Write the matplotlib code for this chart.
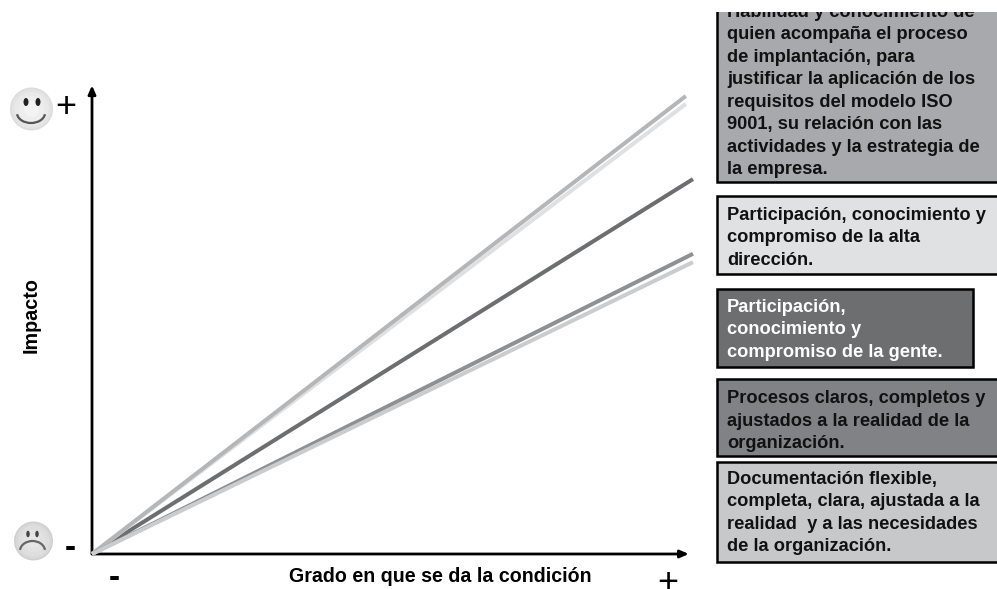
import matplotlib
matplotlib.use("Agg")
import matplotlib.pyplot as plt
from matplotlib.patches import Rectangle, Circle, Ellipse, Arc

plt.rcParams['font.family'] = ['Liberation Sans', 'DejaVu Sans']

# Data: end of each line, in % of the axes
line_x_end = [99.8, 99.8, 101, 101, 101]
line_y_end = [98.7, 97.0, 80.8, 64.7, 62.9]
line_colors = ['#b5b6b8', '#dfe0e2', '#6d6e70', '#8f9092', '#cbcccd']
line_order = [3, 2.5, 2, 3, 4]

# Factor boxes, top to bottom
box_texts = [
    "Habilidad y conocimiento de\nquien acompaña el proceso\nde implantación, para\njustificar la aplicación de los\nrequisitos del modelo ISO\n9001, su relación con las\nactividades y la estrategia de\nla empresa.",
    "Participación, conocimiento y\ncompromiso de la alta\ndirección.",
    "Participación,\nconocimiento y\ncompromiso de la gente.",
    "Procesos claros, completos y\najustados a la realidad de la\norganización.",
    "Documentación flexible,\ncompleta, clara, ajustada a la\nrealidad  y a las necesidades\nde la organización.",
]
box_colors = ['#a7a9ac', '#e0e1e3', '#6d6e70', '#808285', '#c7c8ca']
box_text_colors = ['#111111', '#111111', '#ffffff', '#111111', '#111111']
box_right = [1002, 1002, 973, 1002, 1002]
box_top = [6, 196, 289, 379, 462]
box_bottom = [182, 274, 367, 456, 562]
text_middle = [91, 238, 330, 421, 513]

W, H = 997, 589
fig = plt.figure(figsize=(W / 100, H / 100), dpi=100)

# Overlay in pixel coordinates for boxes, faces and labels
ov = fig.add_axes([0, 0, 1, 1])
ov.set_xlim(0, W)
ov.set_ylim(H, 0)
ov.axis('off')

# Main chart axes
ax = fig.add_axes([92 / W, 1 - 554 / H, 595 / W, 464 / H])
ax.set_xlim(0, 100)
ax.set_ylim(0, 100)
ax.patch.set_alpha(0)
ax.axis('off')

for i in range(len(line_x_end)):
    ax.plot([0, line_x_end[i]], [0, line_y_end[i]], color=line_colors[i], lw=2.9,
            solid_capstyle='butt', clip_on=False, zorder=line_order[i])

# Axis arrows
arrow = dict(arrowstyle='-|>,head_width=0.22,head_length=0.5', color='black', lw=2.0,
             shrinkA=0, shrinkB=0)
ax.annotate('', xy=(0, 101), xytext=(0, 0), arrowprops=arrow, annotation_clip=False, zorder=1)
ax.annotate('', xy=(100.3, 0), xytext=(0, 0), arrowprops=arrow, annotation_clip=False, zorder=1)

# Boxes
for i in range(len(box_texts)):
    ov.add_patch(Rectangle((717, box_top[i]), box_right[i] - 717,
                           box_bottom[i] - box_top[i], fc=box_colors[i], ec='black', lw=1.8))
    ov.text(727, text_middle[i], box_texts[i], color=box_text_colors[i], fontsize=13.15,
            fontweight='bold', va='center', ha='left', linespacing=1.42)
# the top of the first box is cut off in the source
ov.add_patch(Rectangle((700, -2), 300, 14, fc='white', ec='none', zorder=5))


def face(cx, cy, r, shades):
    for k, c in zip([1.0, 0.93, 0.8, 0.6, 0.35], shades):
        ov.add_patch(Circle((cx, cy), r * k, fc=c, ec='none'))


face(31.5, 109, 21.5, ['#dcdcdc', '#e3e3e3', '#e9e9e9', '#eeeeee', '#f3f3f3'])
ov.add_patch(Ellipse((26, 102), 5, 8, fc='#222222', ec='none'))
ov.add_patch(Ellipse((38, 102), 5, 8, fc='#222222', ec='none'))
ov.add_patch(Arc((31, 113), 28, 20, theta1=5, theta2=175, color='#555555', lw=1.6))

face(33.5, 541, 19.5, ['#cfcfcf', '#d8d8d8', '#dedede', '#e2e2e2', '#e6e6e6'])
ov.add_patch(Ellipse((28, 534), 3.5, 6.5, fc='#444444', ec='none'))
ov.add_patch(Ellipse((37, 534), 3.5, 6.5, fc='#444444', ec='none'))
ov.add_patch(Arc((32.5, 551), 25, 20, theta1=185, theta2=355, color='#666666', lw=1.6))

# Labels
ov.text(66, 108, "+", fontsize=26, ha='center', va='center', color='black')
ov.text(70.5, 548, "-", fontsize=24, fontweight='bold', ha='center', va='center', color='black')
ov.text(114.5, 579, "-", fontsize=24, fontweight='bold', ha='center', va='center', color='black')
ov.text(668, 583, "+", fontsize=26, ha='center', va='center', color='black')
ov.text(31, 315, "Impacto", fontsize=14.2, fontweight='bold', rotation=90,
        ha='center', va='center')
ov.text(440.5, 577, "Grado en que se da la condición", fontsize=14.1,
        fontweight='bold', ha='center', va='center')

fig.savefig('out.png', dpi=100)
